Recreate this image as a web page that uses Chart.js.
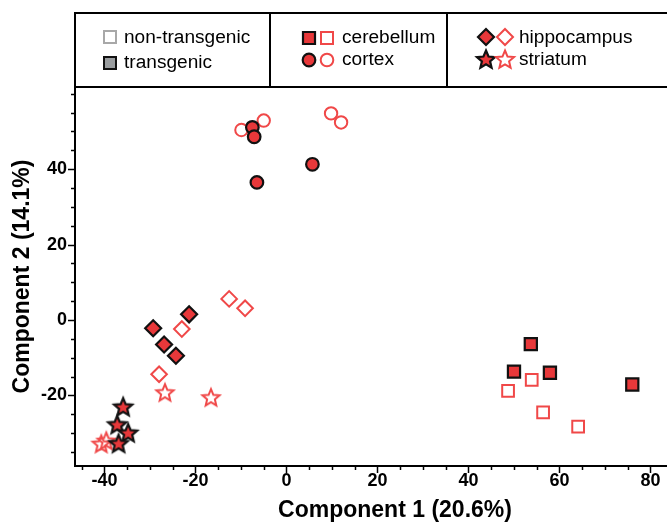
<!DOCTYPE html>
<html><head><meta charset="utf-8">
<script src="https://cdn.jsdelivr.net/npm/chart.js@4"></script>
<style>
html,body{margin:0;padding:0;background:#fff;overflow:hidden;width:667px;height:524px}
#wrap{position:relative;width:730px;height:524px}
canvas{position:absolute;left:0;top:0}
#lbox{position:absolute;left:74px;top:12px;width:700px;height:76px;border:2px solid #000;box-sizing:border-box}
.div{position:absolute;top:12px;width:2px;height:76px;background:#000}
.lt{position:absolute;font-family:"Liberation Sans",Arial,sans-serif;font-size:18px;line-height:18px;color:#000;white-space:nowrap;transform:scaleX(1.06);transform-origin:left center}
</style></head>
<body><div id="wrap">
<canvas id="c" width="730" height="524"></canvas>
<div id="lbox"></div>
<div class="div" style="left:269px"></div>
<div class="div" style="left:446px"></div>
<div class="lt" style="left:124px;top:28px">non-transgenic</div>
<div class="lt" style="left:124px;top:53px">transgenic</div>
<div class="lt" style="left:342px;top:28px">cerebellum</div>
<div class="lt" style="left:342px;top:50px">cortex</div>
<div class="lt" style="left:519px;top:28px">hippocampus</div>
<div class="lt" style="left:519px;top:50px">striatum</div>
</div>
<script>
// Data (Component 1, Component 2)
const cerebellumTransgenic = [[53.7,-6.4],[50.0,-13.7],[57.9,-14.0],[76.0,-17.1]];
const cerebellumNonTransgenic = [[53.9,-15.9],[48.7,-18.8],[56.4,-24.5],[64.1,-28.3]];
const cortexTransgenic = [[-7.5,51.1],[-7.1,48.6],[5.7,41.3],[-6.5,36.5]];
const cortexNonTransgenic = [[-9.9,50.4],[-5.0,52.9],[9.8,54.8],[12.0,52.4]];
const hippocampusTransgenic = [[-21.4,1.5],[-29.3,-2.2],[-26.9,-6.5],[-24.3,-9.5]];
const hippocampusNonTransgenic = [[-23.0,-2.4],[-12.6,5.6],[-9.1,3.1],[-28.0,-14.4]];
const striatumTransgenic = [[-35.9,-23.0],[-37.2,-27.7],[-34.8,-29.9],[-36.9,-32.7]];
const striatumNonTransgenic = [[-26.7,-19.2],[-16.6,-20.5],[-40.7,-32.8],[-39.6,-32.0]];
const xMajorTicks = [-40,-20,0,20,40,60,80];
const yMajorTicks = [-20,0,20,40];

const RED = '#e8383a', RED_LINE = '#f04848', BLACK = '#111';
const toPts = a => a.map(p => ({x:p[0], y:p[1]}));

function starPath(ctx, cx, cy, R, r){
  ctx.beginPath();
  for (let i=0;i<10;i++){
    const a = -Math.PI/2 + i*Math.PI/5, rr = i%2 ? r : R;
    ctx.lineTo(cx + rr*Math.cos(a), cy + rr*Math.sin(a));
  }
  ctx.closePath();
}
function makeStar(fill, stroke, lw, R){
  const s = Math.ceil(2*R + lw + 4);
  const c = document.createElement('canvas'); c.width = s; c.height = s;
  const ctx = c.getContext('2d');
  starPath(ctx, s/2, s/2 + 0.8, R, R*0.45);
  if (fill){ ctx.fillStyle = fill; ctx.fill(); }
  ctx.lineWidth = lw; ctx.strokeStyle = stroke; ctx.lineJoin = 'miter'; ctx.stroke();
  return c;
}
const starFilled = makeStar(RED, BLACK, 2.2, 9.5);
const starOpen = makeStar(null, RED_LINE, 2, 9);

function ds(label, data, style, filled, radius){
  return {
    label, data: toPts(data), pointStyle: style, pointRadius: radius, pointHoverRadius: radius,
    backgroundColor: filled ? RED : 'rgba(255,255,255,0)',
    borderColor: filled ? BLACK : RED_LINE,
    pointBorderWidth: filled ? 2.2 : 2, showLine: false
  };
}
const datasets = [
  ds('cerebellum transgenic', cerebellumTransgenic, 'rect', true, 8.6),
  ds('cortex transgenic', cortexTransgenic, 'circle', true, 6.3),
  ds('hippocampus transgenic', hippocampusTransgenic, 'rectRot', true, 8),
  ds('striatum transgenic', striatumTransgenic, starFilled, true, 10),
  ds('cerebellum non-transgenic', cerebellumNonTransgenic, 'rect', false, 8.3),
  ds('cortex non-transgenic', cortexNonTransgenic, 'circle', false, 6.2),
  ds('hippocampus non-transgenic', hippocampusNonTransgenic, 'rectRot', false, 7.8),
  ds('striatum non-transgenic', striatumNonTransgenic, starOpen, false, 10)
];

const tickPlugin = {
  id: 'minorTicks',
  afterDraw(chart){
    const ctx = chart.ctx, xs = chart.scales.x, ys = chart.scales.y;
    ctx.save(); ctx.strokeStyle = '#000'; ctx.lineWidth = 1.5;
    xs.ticks.forEach(t => {
      const p = Math.round(xs.getPixelForValue(t.value)) + 0.5;
      const L = xMajorTicks.includes(t.value) ? 7 : 4;
      ctx.beginPath(); ctx.moveTo(p, xs.top); ctx.lineTo(p, xs.top + L); ctx.stroke();
    });
    ys.ticks.forEach(t => {
      const p = Math.round(ys.getPixelForValue(t.value)) + 0.5;
      const L = yMajorTicks.includes(t.value) ? 7 : 4;
      ctx.beginPath(); ctx.moveTo(ys.right, p); ctx.lineTo(ys.right - L, p); ctx.stroke();
    });
    // legend markers
    const sq = (cx, cy, fill, stroke, lw) => { ctx.beginPath(); ctx.rect(cx-6, cy-6, 12, 12); if (fill){ctx.fillStyle=fill;ctx.fill();} ctx.lineWidth=lw; ctx.strokeStyle=stroke; ctx.stroke(); };
    const ci = (cx, cy, fill, stroke, lw) => { ctx.beginPath(); ctx.arc(cx, cy, 6.3, 0, Math.PI*2); if (fill){ctx.fillStyle=fill;ctx.fill();} ctx.lineWidth=lw; ctx.strokeStyle=stroke; ctx.stroke(); };
    const di = (cx, cy, fill, stroke, lw) => { const r=8; ctx.beginPath(); ctx.moveTo(cx-r,cy); ctx.lineTo(cx,cy-r); ctx.lineTo(cx+r,cy); ctx.lineTo(cx,cy+r); ctx.closePath(); if (fill){ctx.fillStyle=fill;ctx.fill();} ctx.lineWidth=lw; ctx.strokeStyle=stroke; ctx.stroke(); };
    const st = (cx, cy, fill, stroke, lw) => { starPath(ctx, cx, cy, 9.5, 4.3); if (fill){ctx.fillStyle=fill;ctx.fill();} ctx.lineWidth=lw; ctx.strokeStyle=stroke; ctx.stroke(); };
    sq(110, 37, null, '#a8a8a8', 2);
    sq(110, 63, '#9a9d9f', BLACK, 2);
    sq(309, 38, RED, BLACK, 2.2); sq(327, 38, null, RED_LINE, 2);
    ci(309, 60, RED, BLACK, 2.2); ci(327, 60, null, RED_LINE, 2);
    di(486, 37, RED, BLACK, 2.2); di(505, 37, null, RED_LINE, 2);
    st(486, 60, RED, BLACK, 2.2); st(505, 60, null, RED_LINE, 2);
    ctx.restore();
  }
};

Chart.defaults.font.family = '"Liberation Sans", Arial, sans-serif';
Chart.defaults.color = '#000';
new Chart(document.getElementById('c'), {
  type: 'scatter',
  data: { datasets },
  options: {
    responsive: false, animation: false, devicePixelRatio: 1,
    layout: { padding: { left: 0, top: 87, right: 15, bottom: 0 } },
    plugins: { legend: { display: false }, tooltip: { enabled: false } },
    scales: {
      x: {
        type: 'linear', min: -46.48, max: 94.18,
        afterFit: s => { s.height = 58; },
        grid: { display: true, drawOnChartArea: false, drawTicks: false },
        border: { display: true, color: '#000', width: 2 },
        ticks: { stepSize: 5, includeBounds: false, autoSkip: false, maxRotation: 0, padding: 4,
          font: { size: 18, weight: 'bold' }, color: '#000',
          callback: v => xMajorTicks.includes(v) ? String(v) : '' },
        title: { display: true, text: 'Component 1 (20.6%)', color: '#000',
          font: { size: 23, weight: 'bold' }, padding: { top: 0, bottom: 0 } }
      },
      y: {
        type: 'linear', min: -38.73, max: 61.8,
        afterFit: s => { s.width = 75; },
        grid: { display: true, drawOnChartArea: false, drawTicks: false },
        border: { display: true, color: '#000', width: 2 },
        ticks: { stepSize: 5, includeBounds: false, autoSkip: false, padding: 8,
          font: { size: 18, weight: 'bold' }, color: '#000',
          callback: v => yMajorTicks.includes(v) ? String(v) : '' },
        title: { display: true, text: 'Component 2 (14.1%)', color: '#000',
          font: { size: 23, weight: 'bold' }, padding: { top: 9, bottom: 0 } }
      }
    }
  },
  plugins: [tickPlugin]
});
</script>
</body></html>
